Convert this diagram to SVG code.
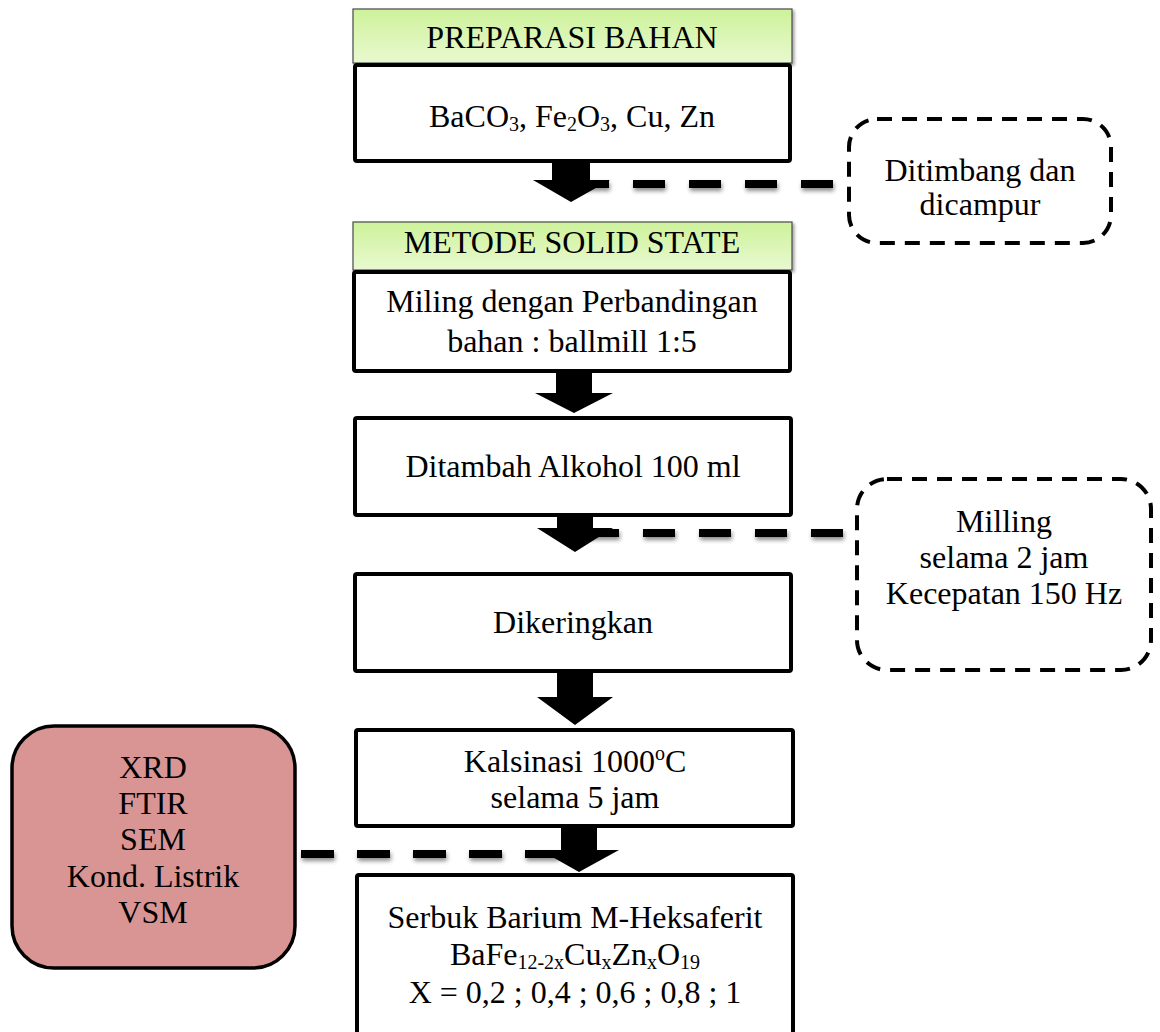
<svg xmlns="http://www.w3.org/2000/svg" width="1160" height="1032" viewBox="0 0 1160 1032">
<defs>
<linearGradient id="hdr" x1="0" y1="0" x2="0" y2="1">
<stop offset="0" stop-color="#cdf29a"/>
<stop offset="1" stop-color="#e9f9d0"/>
</linearGradient>
<filter id="sh" filterUnits="userSpaceOnUse" x="0" y="0" width="1160" height="1032">
<feDropShadow dx="1" dy="3" stdDeviation="2" flood-color="#000" flood-opacity="0.45"/>
</filter>
<filter id="hsh" x="-5%" y="-20%" width="110%" height="150%">
<feDropShadow dx="2" dy="2" stdDeviation="1.5" flood-color="#000" flood-opacity="0.35"/>
</filter>
</defs>
<style>
text{font-family:"Liberation Serif","Times New Roman",serif;font-size:32px;fill:#000;text-anchor:middle}
.box{fill:#fff;stroke:#000;stroke-width:4;stroke-linejoin:round}
.hdr{fill:url(#hdr);stroke:#4a4a4a;stroke-width:1.2}
.dbox{fill:#fff;stroke:#000;stroke-width:4;stroke-dasharray:15 10}
.dash{fill:none;stroke:#000;stroke-width:8}
.arr{fill:#000}
.sub{font-size:20px}
</style>
<rect width="1160" height="1032" fill="#fff"/>

<g id="connectors">
<path class="dash" filter="url(#sh)" d="M577 184H847" style="stroke-dasharray:32 24"/>
<path class="dash" filter="url(#sh)" d="M587 533H855" style="stroke-dasharray:32 24"/>
<path class="dash" filter="url(#sh)" d="M301 854H580" style="stroke-dasharray:33 23"/>
</g>

<g id="n-preparasi">
<rect class="hdr" filter="url(#hsh)" x="353" y="9" width="439" height="54"/>
<text x="572" y="48">PREPARASI BAHAN</text>
</g>
<g id="n-bahan">
<rect class="box" x="355" y="65" width="435" height="96" rx="2"/>
<text x="572" y="127">BaCO<tspan class="sub" dy="4">3</tspan><tspan dy="-4">, Fe</tspan><tspan class="sub" dy="4">2</tspan><tspan dy="-4">O</tspan><tspan class="sub" dy="4">3</tspan><tspan dy="-4">, Cu, Zn</tspan></text>
</g>
<g id="n-timbang">
<rect class="dbox" x="849" y="119" width="262" height="124" rx="28"/>
<text x="980" y="181">Ditimbang dan</text>
<text x="980" y="215">dicampur</text>
</g>
<g id="n-metode">
<rect class="hdr" filter="url(#hsh)" x="353" y="222" width="439" height="48"/>
<text x="572" y="253">METODE SOLID STATE</text>
</g>
<g id="n-miling">
<rect class="box" x="354" y="272" width="436" height="99" rx="2"/>
<text x="572" y="312">Miling dengan Perbandingan</text>
<text x="572" y="352">bahan : ballmill 1:5</text>
</g>
<g id="n-alkohol">
<rect class="box" x="355" y="418" width="436" height="97" rx="2"/>
<text x="573" y="477">Ditambah Alkohol 100 ml</text>
</g>
<g id="n-milling2">
<rect class="dbox" x="857" y="479" width="294" height="191" rx="30"/>
<text x="1004" y="532">Milling</text>
<text x="1004" y="568">selama 2 jam</text>
<text x="1004" y="604">Kecepatan 150 Hz</text>
</g>
<g id="n-kering">
<rect class="box" x="355" y="574" width="436" height="97" rx="2"/>
<text x="573" y="633">Dikeringkan</text>
</g>
<g id="n-kalsinasi">
<rect class="box" x="356" y="730" width="437" height="96" rx="2"/>
<text x="575" y="772">Kalsinasi 1000<tspan class="sub" dy="-12">o</tspan><tspan dy="12">C</tspan></text>
<text x="575" y="808">selama 5 jam</text>
</g>
<g id="n-serbuk">
<rect class="box" x="357" y="875" width="436" height="170" rx="2"/>
<text x="575" y="928">Serbuk Barium M-Heksaferit</text>
<text x="575" y="965">BaFe<tspan class="sub" dy="4">12-2x</tspan><tspan dy="-4">Cu</tspan><tspan class="sub" dy="4">x</tspan><tspan dy="-4">Zn</tspan><tspan class="sub" dy="4">x</tspan><tspan dy="-4">O</tspan><tspan class="sub" dy="4">19</tspan></text>
<text x="575" y="1003">X = 0,2 ; 0,4 ; 0,6 ; 0,8 ; 1</text>
</g>
<g id="n-karakterisasi">
<rect x="12" y="726" width="283" height="242" rx="42" fill="#d99594" stroke="#000" stroke-width="3.5"/>
<text x="153" y="778">XRD</text>
<text x="153" y="814">FTIR</text>
<text x="153" y="850">SEM</text>
<text x="153" y="887">Kond. Listrik</text>
<text x="153" y="923">VSM</text>
</g>

<g id="arrows">
<path class="arr" d="M552 163H590V180H610L571 202L533 180H552Z"/>
<path class="arr" d="M556 373H592V393H613L574 413L535 393H556Z"/>
<path class="arr" d="M557 517H593V528H613L575 552L537 528H557Z"/>
<path class="arr" d="M557 673H593V697H613L575 725L537 697H557Z"/>
<path class="arr" d="M561 828H597V850H619L579 872L540 850H561Z"/>
</g>
</svg>
